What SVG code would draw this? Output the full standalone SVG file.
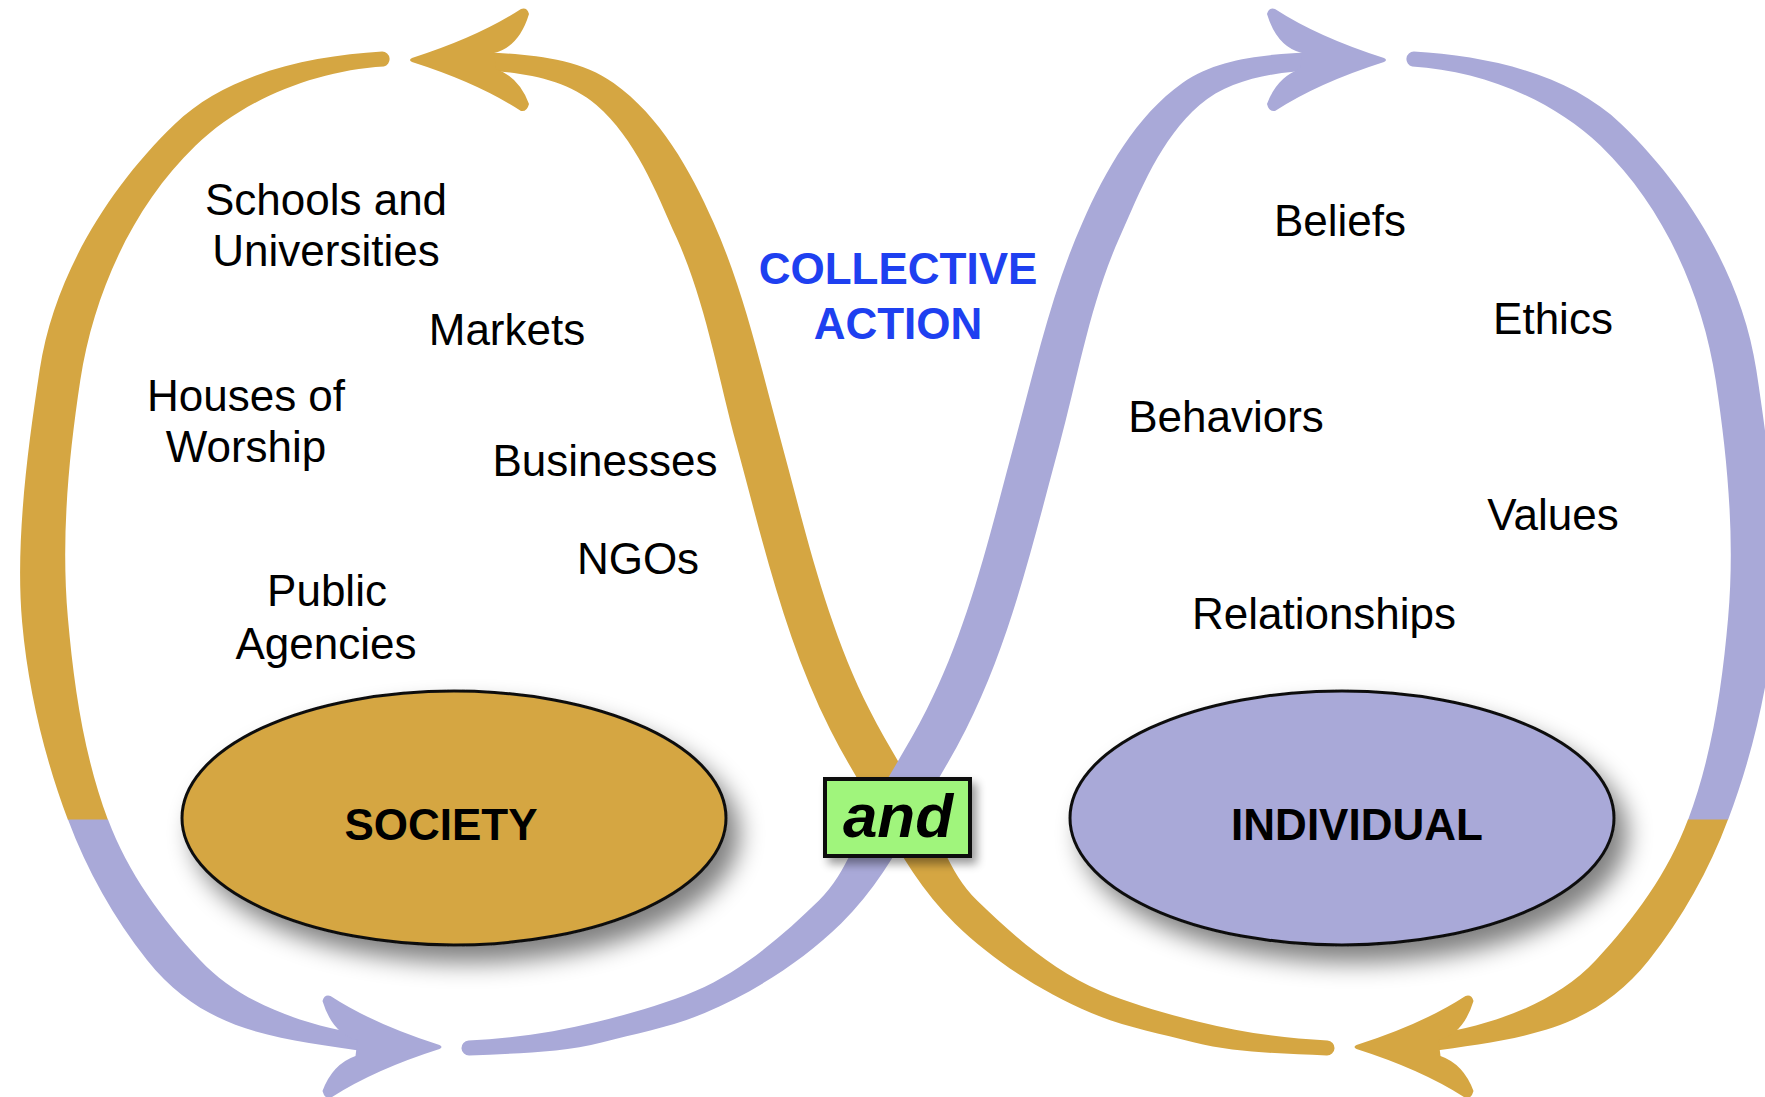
<svg xmlns="http://www.w3.org/2000/svg" xmlns:xlink="http://www.w3.org/1999/xlink" width="1765" height="1097" viewBox="0 0 1765 1097">
<style>
.gold{fill:#D5A642}
.lav{fill:#A9A9D8}
.lbl{font-family:"Liberation Sans",Arial,Helvetica,sans-serif;font-size:44px;fill:#000;text-anchor:middle}
.b{font-weight:bold}
.blue{fill:#1E40F0;font-weight:bold}
.edge{stroke:#111;stroke-width:3}
</style>
<defs>
<filter id="shadow" x="-20%" y="-20%" width="150%" height="170%">
<feGaussianBlur in="SourceAlpha" stdDeviation="12"/>
<feOffset dx="12" dy="16"/>
<feComponentTransfer><feFuncA type="linear" slope="0.5"/></feComponentTransfer>
<feMerge><feMergeNode/><feMergeNode in="SourceGraphic"/></feMerge>
</filter>
<filter id="shadow2" x="-20%" y="-30%" width="150%" height="180%">
<feGaussianBlur in="SourceAlpha" stdDeviation="5"/>
<feOffset dx="5" dy="6"/>
<feComponentTransfer><feFuncA type="linear" slope="0.4"/></feComponentTransfer>
<feMerge><feMergeNode/><feMergeNode in="SourceGraphic"/></feMerge>
</filter>
<path id="sCurve" d="M480.8,52 C526.3,54.3 576.5,56.7 613.6,83 C660.1,116.1 690.2,170 713.4,222.2 C743.5,289.8 759.8,362.8 779.2,434.2 C804.6,527.6 825.9,623.8 869.6,710.1 C884.1,738.8 901.4,766.2 917.2,794.2 L878.8,815.8 C862.6,787.1 845.2,759.2 830.4,729.9 C785.4,641 762.9,542 736.8,445.8 C717.9,376.1 706,303.8 676.6,237.8 C655.6,190.5 635.5,138.9 596.4,105 C565.6,78.3 520,72 479.2,70 Z"/>
<path id="leftArc" d="M382.2,51.6 C309,56 227.4,73.3 174.6,124.2 C107.4,189 53.7,277.4 39.7,369.8 C27.7,448.9 15.1,542.3 22.1,622 C28.1,689.5 44.1,756.5 68,820 L108,820 C83.9,755.7 73.9,686.3 67.9,618 C60.9,539 68.4,458.7 80.3,380.3 C93.4,294.2 132.7,206.2 195.4,145.8 C244.4,98.5 315.8,70.5 383.8,66.4 A7.5,7.5 0 0 0 382.2,51.6 Z"/>
<path id="lowArc" d="M68,819.5 C86.9,870.2 113.8,918.2 147,960 C205.9,1034.1 280,1038.3 369,1052 L371,1036 C309.3,1026.5 242.4,1005.6 200,960 C162.1,919.3 127.6,872.3 108,819.5 Z"/>
<path id="bottom" d="M468.6,1040.5 C511.9,1038.4 555.3,1032.4 597.4,1021.8 C630.5,1013.4 663.8,1004.4 695.3,991 C742.3,971 782.2,936.1 818.9,900.5 C848.1,872.2 858.8,829.6 878.8,794.2 L917.2,815.8 C895.6,854.1 872.7,892.9 841.1,923.5 C802,961.4 754.7,991.7 704.7,1013 C672.1,1026.8 636.9,1033.5 602.6,1042.2 C559.4,1053.1 513.9,1053.3 469.4,1055.5 A7.5,7.5 0 0 1 468.6,1040.5 Z"/>
<path id="head" d="M412,58 Q478,37 521,9 Q527,7 529,14 Q519,47 494,53 L496,69 Q519,77 529,104 Q527,112 521,111 Q478,83 412,62 Q408,60 412,58 Z"/>
</defs>
<rect width="1765" height="1097" fill="#fff"/>
<g id="society">
<ellipse cx="454" cy="818" rx="272" ry="127" class="gold edge" filter="url(#shadow)"/>
<text class="lbl b" x="441" y="840">SOCIETY</text>
</g>
<g id="individual">
<ellipse cx="1342" cy="818" rx="272" ry="127" class="lav edge" filter="url(#shadow)"/>
<text class="lbl b" x="1357" y="840">INDIVIDUAL</text>
</g>
<g id="connectors">
<use xlink:href="#sCurve" class="gold"/>
<use xlink:href="#leftArc" class="gold"/>
<use xlink:href="#lowArc" class="lav"/>
<use xlink:href="#bottom" class="lav"/>
<use xlink:href="#head" class="gold"/>
<use xlink:href="#head" class="lav" transform="matrix(-1,0,0,1,851.5,987)"/>
<g transform="matrix(-1,0,0,1,1796,0)">
<use xlink:href="#sCurve" class="lav"/>
<use xlink:href="#leftArc" class="lav"/>
<use xlink:href="#lowArc" class="gold"/>
<use xlink:href="#bottom" class="gold"/>
<use xlink:href="#head" class="lav"/>
<use xlink:href="#head" class="gold" transform="matrix(-1,0,0,1,851.5,987)"/>
</g>
</g>
<g id="and-box">
<rect x="825" y="779" width="145" height="77" fill="#A0F57C" stroke="#111" stroke-width="4" filter="url(#shadow2)"/>
<text x="898" y="837" font-family="'Liberation Sans',Arial,sans-serif" font-size="62" font-weight="bold" font-style="italic" text-anchor="middle" fill="#000">and</text>
</g>
<g id="collective-action">
<text class="lbl blue" x="898" y="284">COLLECTIVE</text>
<text class="lbl blue" x="898" y="339">ACTION</text>
</g>
<g id="society-items">
<text id="t-schools" class="lbl" x="326" y="215">Schools and</text>
<text class="lbl" x="326" y="266">Universities</text>
<text id="t-markets" class="lbl" x="507" y="345">Markets</text>
<text id="t-houses" class="lbl" x="246" y="411">Houses of</text>
<text class="lbl" x="246" y="462">Worship</text>
<text id="t-businesses" class="lbl" x="605" y="476">Businesses</text>
<text id="t-ngos" class="lbl" x="638" y="574">NGOs</text>
<text id="t-public" class="lbl" x="327" y="606">Public</text>
<text class="lbl" x="326" y="659">Agencies</text>
</g>
<g id="individual-items">
<text id="t-beliefs" class="lbl" x="1340" y="236">Beliefs</text>
<text id="t-ethics" class="lbl" x="1553" y="334">Ethics</text>
<text id="t-behaviors" class="lbl" x="1226" y="432">Behaviors</text>
<text id="t-values" class="lbl" x="1553" y="530">Values</text>
<text id="t-relationships" class="lbl" x="1324" y="629">Relationships</text>
</g>
</svg>
